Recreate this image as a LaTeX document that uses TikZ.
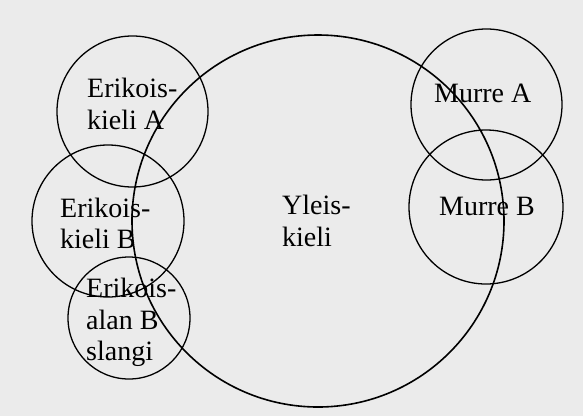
\documentclass[tikz,border=0pt]{standalone}
\usepackage{fontspec}
\setmainfont{Liberation Serif}
\begin{document}
\begin{tikzpicture}[x=1pt, y=-1pt,
  ring/.style={draw, circle, inner sep=0pt, line width=1.3pt, minimum size=#1},
  lbl/.style={align=left, inner sep=0pt, anchor=west, font=\fontsize{28}{31.5}\selectfont}]
 \fill[black!8] (0,0) rectangle (583,416);
 \useasboundingbox (0,0) rectangle (583,416);
 % yleiskieli covers the middle
 \node[ring=372pt, line width=1.6pt] (yleis) at (318,221) {};
 % erikoiskielet on the left
 \node[ring=151pt] (ekA) at (132.5,111.5) {};
 \node[ring=152pt] (ekB) at (108,221) {};
 \node[ring=122pt] (slangi) at (129,318) {};
 % murteet on the right
 \node[ring=151pt] (murA) at (486.5,104.5) {};
 \node[ring=154pt] (murB) at (486,207) {};
 % labels
 \node[lbl] (tyleis) at (282,221) {Yleis-\\kieli};
 \node[lbl] (tekA) at (87,104) {Erikois-\\kieli A};
 \node[lbl] (tekB) at (60,223.5) {Erikois-\\kieli B};
 \node[lbl] (tslangi) at (86,322.5) {Erikois-\\alan B\\slangi};
 \node[lbl] (tmurA) at (434,93.5) {Murre A};
 \node[lbl] (tmurB) at (439,206.5) {Murre B};
\end{tikzpicture}
\end{document}
